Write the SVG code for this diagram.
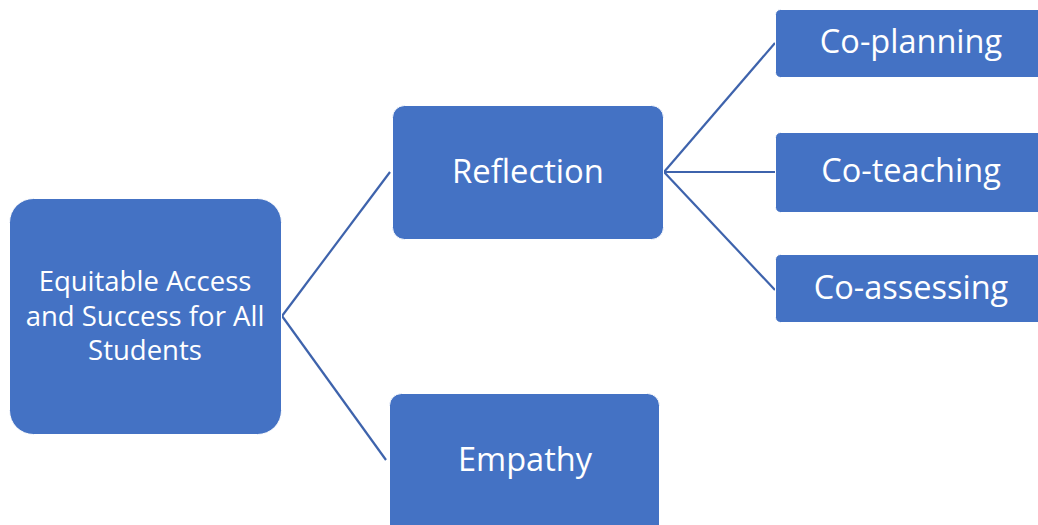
<svg xmlns="http://www.w3.org/2000/svg" width="1038" height="525" viewBox="0 0 1038 525">
  <style>
    .box { fill: #4472C4; stroke: #ffffff; stroke-width: 1; }
    .lbl { fill: #ffffff; font-family: "Open Sans", "Liberation Sans", sans-serif; text-anchor: middle; }
    .link { stroke: #3E63AC; stroke-width: 2.2; fill: none; }
  </style>
  <rect width="1038" height="525" fill="#ffffff"/>
  <g id="connectors">
    <line class="link" x1="282" y1="316" x2="390" y2="172"/>
    <line class="link" x1="282" y1="316" x2="386" y2="460"/>
    <line class="link" x1="664" y1="172" x2="775" y2="43"/>
    <line class="link" x1="664" y1="172" x2="775" y2="172"/>
    <line class="link" x1="664" y1="172" x2="775" y2="290"/>
  </g>
  <g id="node-root">
    <rect class="box" x="9.5" y="198.5" width="272" height="236" rx="24"/>
    <text class="lbl" font-size="27.5"><tspan x="145" y="291">Equitable Access</tspan><tspan x="145" y="326">and Success for All</tspan><tspan x="145" y="360">Students</tspan></text>
  </g>
  <g id="node-reflection">
    <rect class="box" x="392.5" y="105.5" width="271" height="134" rx="12"/>
    <text class="lbl" font-size="32.8" x="528" y="183">Reflection</text>
  </g>
  <g id="node-empathy">
    <rect class="box" x="389.5" y="393.5" width="270" height="145" rx="12"/>
    <text class="lbl" font-size="32.5" x="525" y="471">Empathy</text>
  </g>
  <g id="node-coplanning">
    <rect class="box" x="775.5" y="9.5" width="275" height="68" rx="5"/>
    <text class="lbl" font-size="32.5" x="911" y="53">Co-planning</text>
  </g>
  <g id="node-coteaching">
    <rect class="box" x="775.5" y="132.5" width="275" height="80" rx="5"/>
    <text class="lbl" font-size="32.5" x="911" y="182">Co-teaching</text>
  </g>
  <g id="node-coassessing">
    <rect class="box" x="775.5" y="254.5" width="275" height="68" rx="5"/>
    <text class="lbl" font-size="32.5" x="911" y="299">Co-assessing</text>
  </g>
</svg>
